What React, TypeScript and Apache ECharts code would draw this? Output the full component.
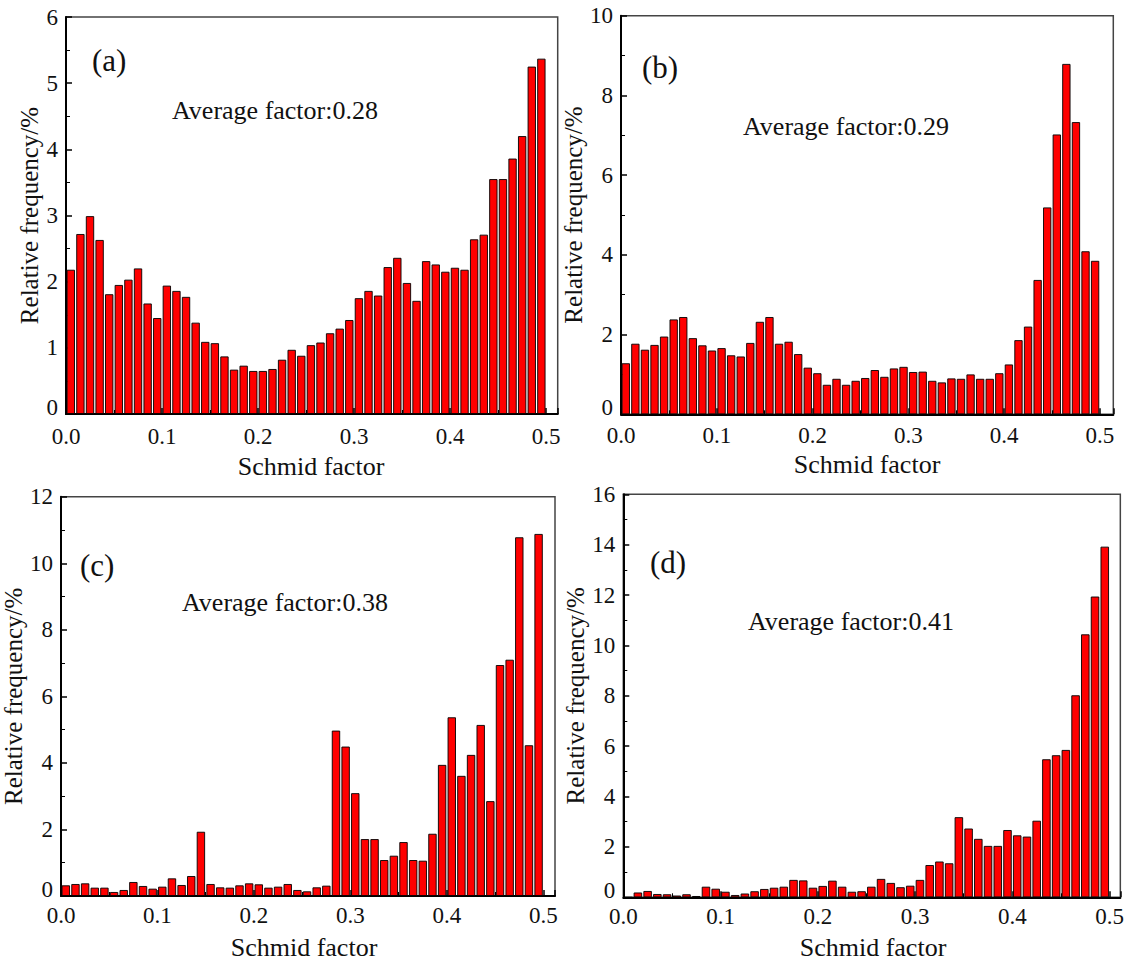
import React, { useEffect, useRef } from "react";
import * as echarts from "echarts";

// Bin centres of the Schmid factor histogram (bin width 0.01)
const binCenters = [
  0.005, 0.015, 0.025, 0.035, 0.045, 0.055, 0.065, 0.075, 0.085, 0.095,
  0.105, 0.115, 0.125, 0.135, 0.145, 0.155, 0.165, 0.175, 0.185, 0.195,
  0.205, 0.215, 0.225, 0.235, 0.245, 0.255, 0.265, 0.275, 0.285, 0.295,
  0.305, 0.315, 0.325, 0.335, 0.345, 0.355, 0.365, 0.375, 0.385, 0.395,
  0.405, 0.415, 0.425, 0.435, 0.445, 0.455, 0.465, 0.475, 0.485, 0.495,
];

const xTickLabels = ["0.0", "0.1", "0.2", "0.3", "0.4", "0.5"];

const freqA = [
  2.18, 2.72, 2.99, 2.63, 1.81, 1.95, 2.03, 2.2, 1.67, 1.45,
  1.94, 1.86, 1.77, 1.38, 1.09, 1.07, 0.87, 0.67, 0.73, 0.65,
  0.65, 0.68, 0.82, 0.97, 0.88, 1.04, 1.08, 1.22, 1.29, 1.42,
  1.75, 1.86, 1.79, 2.22, 2.36, 1.98, 1.71, 2.31, 2.26, 2.15,
  2.21, 2.18, 2.64, 2.71, 3.55, 3.55, 3.86, 4.2, 5.25, 5.37,
];

const freqB = [
  1.28, 1.77, 1.62, 1.74, 1.95, 2.38, 2.44, 1.91, 1.73, 1.6,
  1.66, 1.48, 1.45, 1.79, 2.32, 2.44, 1.77, 1.82, 1.51, 1.17,
  1.03, 0.74, 0.89, 0.74, 0.84, 0.91, 1.11, 0.94, 1.15, 1.19,
  1.06, 1.07, 0.84, 0.8, 0.9, 0.89, 1.0, 0.89, 0.89, 1.03,
  1.25, 1.86, 2.2, 3.37, 5.19, 7.02, 8.79, 7.33, 4.09, 3.85,
];

const freqC = [
  0.32, 0.36, 0.38, 0.25, 0.25, 0.12, 0.18, 0.42, 0.3, 0.22,
  0.28, 0.53, 0.33, 0.6, 1.93, 0.36, 0.26, 0.25, 0.32, 0.38,
  0.35, 0.25, 0.28, 0.36, 0.18, 0.14, 0.26, 0.31, 4.97, 4.49,
  3.09, 1.71, 1.71, 1.08, 1.21, 1.62, 1.08, 1.06, 1.87, 3.94,
  5.37, 3.61, 4.24, 5.14, 2.85, 6.94, 7.1, 10.78, 4.53, 10.88,
];

const freqD = [
  0, 0.19, 0.25, 0.13, 0.12, 0.07, 0.12, 0.05, 0.42, 0.34,
  0.22, 0.09, 0.15, 0.24, 0.33, 0.38, 0.42, 0.69, 0.67, 0.38,
  0.45, 0.66, 0.42, 0.22, 0.24, 0.42, 0.73, 0.57, 0.4, 0.46,
  0.69, 1.28, 1.42, 1.35, 3.18, 2.73, 2.32, 2.04, 2.04, 2.67,
  2.46, 2.41, 3.04, 5.48, 5.64, 5.85, 8.02, 10.44, 11.94, 13.92,
];

const panelLabels = ["(a)", "(b)", "(c)", "(d)"];
const averageTexts = [
  "Average factor:0.28",
  "Average factor:0.29",
  "Average factor:0.38",
  "Average factor:0.41",
];
const yMaxes = [6, 10, 12, 16];
const yIntervals = [1, 2, 2, 2];
const xTitle = "Schmid factor";
const yTitle = "Relative frequency/%";

const SERIF = "Liberation Serif";
const TICK_FONT = 23;

const layouts = [
  { grid: { left: 66, top: 17, width: 491.7, height: 397 }, xMax: 0.512, yGap: 24, xLabelMargin: 10.5,
    label: [92, 60], avg: [172, 110], xName: [311, 466] },
  { grid: { left: 621, top: 15.7, width: 492.3, height: 398.6 }, xMax: 0.514, yGap: 27, xLabelMargin: 9.2,
    label: [642, 67.5], avg: [743, 126], xName: [867, 464] },
  { grid: { left: 61, top: 496.7, width: 494, height: 399.3 }, xMax: 0.512, yGap: 32, xLabelMargin: 8.2,
    label: [80, 565], avg: [182, 602], xName: [304, 947] },
  { grid: { left: 623.3, top: 494.3, width: 499.4, height: 403 }, xMax: 0.511, yGap: 35, xLabelMargin: 7.5,
    label: [650, 562.5], avg: [748, 621], xName: [873, 947] },
];

const seriesData = [freqA, freqB, freqC, freqD];

function textEl(text: string, x: number, y: number, size: number, align: string) {
  return {
    type: "text",
    x,
    y,
    silent: true,
    style: {
      text,
      fontSize: size,
      fontFamily: SERIF,
      fill: "#111",
      align,
      verticalAlign: "middle",
      textAlign: align,
      textVerticalAlign: "middle",
    },
  };
}

export default function App() {
  const ref = useRef<HTMLDivElement>(null);

  useEffect(() => {
    if (!ref.current) return;
    const chart = echarts.init(ref.current, undefined, { renderer: "svg" });

    const grids: any[] = [];
    const xAxes: any[] = [];
    const yAxes: any[] = [];
    const series: any[] = [];
    const graphics: any[] = [];

    layouts.forEach((L, i) => {
      grids.push({
        ...L.grid,
        show: true,
        borderColor: "#444",
        borderWidth: 1.5,
        backgroundColor: "transparent",
        containLabel: false,
      });
      xAxes.push({
        type: "value",
        gridIndex: i,
        min: 0,
        max: L.xMax,
        interval: 0.1,
        axisLine: { show: true, onZero: false, lineStyle: { color: "#000", width: 2 } },
        axisTick: { show: true, inside: true, length: 6, lineStyle: { color: "#000", width: 1.5 } },
        minorTick: { show: true, splitNumber: 2, length: 4, lineStyle: { color: "#000", width: 1 } },
        splitLine: { show: false },
        axisLabel: {
          margin: L.xLabelMargin,
          fontSize: TICK_FONT,
          lineHeight: TICK_FONT,
          fontFamily: SERIF,
          color: "#111",
          formatter: (v: number) => {
            const k = Math.round(v * 10);
            return Math.abs(v * 10 - k) < 1e-6 && k >= 0 && k < xTickLabels.length ? xTickLabels[k] : "";
          },
        },
      });
      yAxes.push({
        type: "value",
        gridIndex: i,
        min: 0,
        max: yMaxes[i],
        interval: yIntervals[i],
        name: yTitle,
        nameLocation: "middle",
        nameGap: L.yGap,
        nameTextStyle: { fontSize: 25, fontFamily: SERIF, color: "#111" },
        axisLine: { show: true, lineStyle: { color: "#000", width: 2 } },
        axisTick: { show: true, inside: true, length: 6, lineStyle: { color: "#000", width: 1.5 } },
        minorTick: { show: true, splitNumber: 2, length: 4, lineStyle: { color: "#000", width: 1 } },
        splitLine: { show: false },
        axisLabel: {
          margin: 8,
          fontSize: TICK_FONT,
          lineHeight: TICK_FONT,
          fontFamily: SERIF,
          color: "#111",
          formatter: (v: number) => (v === 0 ? "{z|0}" : String(v)),
          rich: {
            z: {
              fontSize: TICK_FONT,
              lineHeight: TICK_FONT,
              fontFamily: SERIF,
              color: "#111",
              padding: [0, 0, 14, 0],
            },
          },
        },
      });
      const slot = (L.grid.width / L.xMax) * 0.01;
      series.push({
        type: "bar",
        xAxisIndex: i,
        yAxisIndex: i,
        barWidth: slot - 1.3,
        data: binCenters.map((x, j) => [x, seriesData[i][j]]),
        itemStyle: { color: "#ff0000", borderColor: "#000", borderWidth: 0.9 },
        emphasis: { disabled: true },
      });
      graphics.push(textEl(panelLabels[i], L.label[0], L.label[1], 31, "left"));
      graphics.push(textEl(averageTexts[i], L.avg[0], L.avg[1], 26, "left"));
      graphics.push(textEl(xTitle, L.xName[0], L.xName[1], 26, "center"));
    });

    chart.setOption({
      animation: false,
      backgroundColor: "#ffffff",
      textStyle: { fontFamily: SERIF },
      grid: grids,
      xAxis: xAxes,
      yAxis: yAxes,
      series,
      graphic: graphics,
    });

    return () => chart.dispose();
  }, []);

  return (
    <div
      ref={ref}
      style={{ position: "absolute", left: 0, top: 0, width: 1127, height: 962, background: "#fff" }}
    />
  );
}
